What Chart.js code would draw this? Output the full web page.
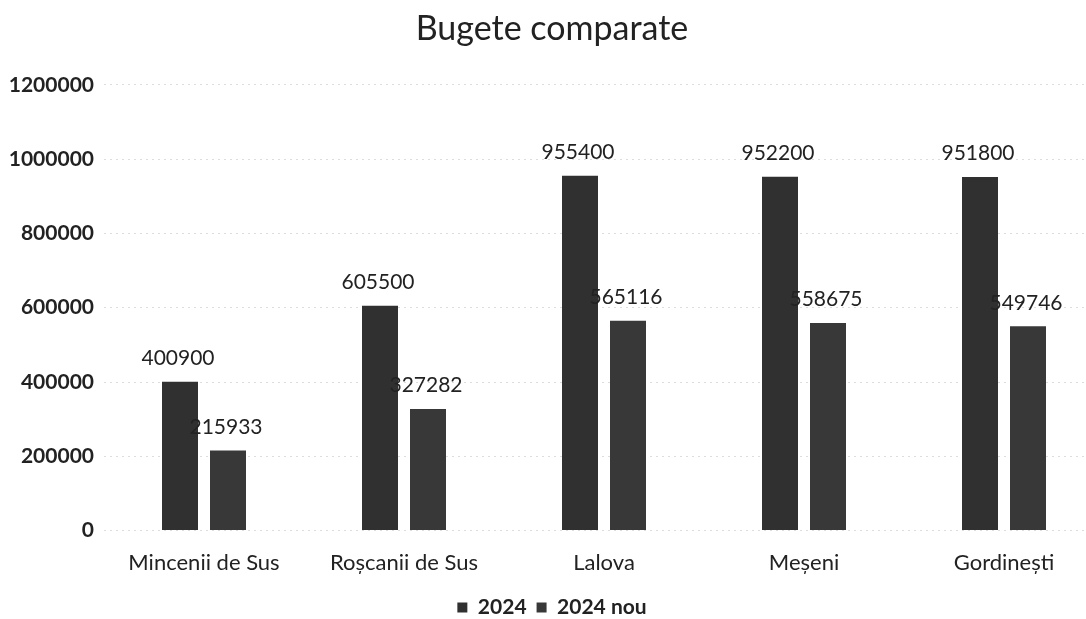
<!DOCTYPE html>
<html><head><meta charset="utf-8">
<script src="https://cdn.jsdelivr.net/npm/chart.js@4/dist/chart.umd.min.js"></script>
<style>html,body{margin:0;padding:0;background:#fff;overflow:hidden;}#wrap{width:1120px;height:628px;}</style>
</head><body><div id="wrap"><canvas id="c"></canvas></div>
<script>
const categories = ["Mincenii de Sus", "Roșcanii de Sus", "Lalova", "Meșeni", "Gordinești"];
const values2024 = [400900, 605500, 955400, 952200, 951800];
const values2024nou = [215933, 327282, 565116, 558675, 549746];
const seriesNames = ["2024", "2024 nou"];

const FONT = 'Lato, "Open Sans", sans-serif';

const labelPlugin = {
  id: 'vlabels',
  afterDatasetsDraw(chart) {
    const ctx = chart.ctx;
    ctx.save();
    ctx.font = '21px ' + FONT;
    ctx.fillStyle = '#222';
    ctx.textAlign = 'center';
    ctx.textBaseline = 'bottom';
    chart.data.datasets.forEach((ds, di) => {
      chart.getDatasetMeta(di).data.forEach((bar, i) => {
        ctx.fillText(String(ds.data[i]), bar.x - 2, bar.y - 13);
      });
    });
    ctx.restore();
  }
};

new Chart(document.getElementById('c'), {
  type: 'bar',
  data: {
    labels: categories,
    datasets: [
      { label: seriesNames[0], data: values2024, backgroundColor: '#303030', categoryPercentage: 0.48, barPercentage: 0.75 },
      { label: seriesNames[1], data: values2024nou, backgroundColor: '#383838', categoryPercentage: 0.48, barPercentage: 0.75 }
    ]
  },
  options: {
    responsive: true,
    maintainAspectRatio: false,
    animation: false,
    layout: { padding: { left: 0, right: 16, top: 0, bottom: 0 } },
    plugins: {
      title: { display: true, text: 'Bugete comparate', color: '#222', font: { size: 34, family: FONT, weight: 'normal' }, padding: { top: 9, bottom: 35 } },
      legend: { position: 'bottom', labels: { boxWidth: 10, boxHeight: 10, color: '#222', font: { size: 21, weight: 'bold', family: FONT }, padding: 10 } },
      tooltip: { enabled: false }
    },
    scales: {
      x: {
        grid: { display: false },
        border: { display: false },
        ticks: { color: '#222', font: { size: 22, family: FONT }, padding: 11 }
      },
      y: {
        min: 0, max: 1200000,
        ticks: { stepSize: 200000, color: '#222', font: { size: 21, weight: 'bold', family: FONT }, padding: 10, callback: v => String(v) },
        grid: { color: '#dddddd', drawTicks: false },
        border: { display: false, dash: [2, 4] },
        afterFit(scale) { scale.width = 104; }
      }
    }
  },
  plugins: [labelPlugin]
});
</script></body></html>
